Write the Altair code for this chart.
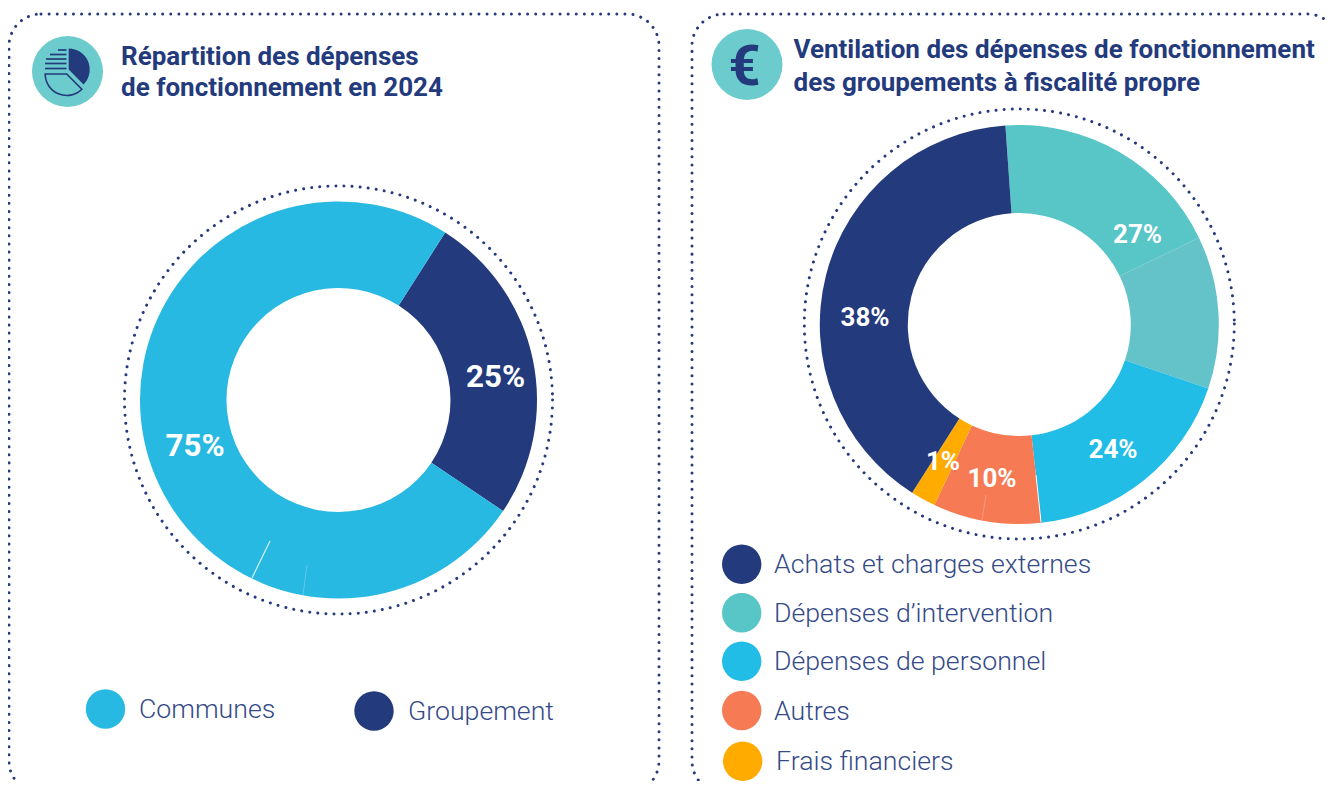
import altair as alt
import pandas as pd

# ---- data ----
left_names = ["Groupement", "Communes"]
left_angles = [91.5, 268.5]          # slice sizes in degrees, as drawn
left_labels = ["25%", "75%"]

right_names = ["Dépenses d’intervention", "Dépenses d’intervention (b)", "Dépenses de personnel",
               "Autres", "Frais financiers", "Achats et charges externes"]
right_angles = [68.2, 44.5, 65.0, 31.5, 7.3, 143.5]
right_labels = ["27%", "", "24%", "10%", "1%", "38%"]

legend_left = ["Communes", "Groupement"]
legend_right = ["Achats et charges externes", "Dépenses d’intervention", "Dépenses de personnel",
                "Autres", "Frais financiers"]
title_left = ["Répartition des dépenses", "de fonctionnement en 2024"]
title_right = ["Ventilation des dépenses de fonctionnement", "des groupements à fiscalité propre"]

# ---- styles and layout (page pixels) ----
NAVY = "#233A7D"
colours = {
    "Groupement": NAVY, "Communes": "#28B9E2",
    "Achats et charges externes": NAVY, "Dépenses d’intervention": "#58C5C7",
    "Dépenses d’intervention (b)": "#64C2C9", "Dépenses de personnel": "#22BDE6",
    "Autres": "#F67B54", "Frais financiers": "#FFAB00",
}
LEFT_C = (338.5, 400); RIGHT_C = (1019.3, 324.5)
px = lambda v: v - 8

color_enc = alt.Color("name:N", legend=None,
                      scale=alt.Scale(domain=list(colours), range=list(colours.values())))
theta_scale = alt.Scale(domain=[0, 360], range=[0, 6.283185307])


def one():
    return alt.Chart(pd.DataFrame({"k": [0]}))


def donut(names, angles, start, centre, outer, inner):
    rows, a = [], start
    for n, v in zip(names, angles):
        rows.append({"name": n, "a0": a, "a1": a + v})
        a += v
    return alt.Chart(pd.DataFrame(rows)).mark_arc(stroke=None).encode(
        theta=alt.Theta("a0:Q", scale=theta_scale),
        theta2="a1:Q",
        radius=alt.value(outer), radius2=alt.value(inner),
        color=color_enc,
        x=alt.value(px(centre[0])), y=alt.value(px(centre[1])),
    )


def text(s, x, y, size, color, weight="normal", font="Roboto", align="left", opacity=1):
    return one().mark_text(text=s, font=font, fontSize=size, fontWeight=weight, color=color,
                           align=align, baseline="middle", opacity=opacity).encode(
        x=alt.value(px(x)), y=alt.value(px(y)))


def circle(x, y, d, color):
    return one().mark_point(shape="circle", filled=True, opacity=1, color=color, size=d * d).encode(
        x=alt.value(px(x)), y=alt.value(px(y)))


def ring(x, y, d):
    return one().mark_point(shape="circle", filled=False, opacity=1, color=NAVY, size=d * d,
                            strokeWidth=3, strokeDash=[0.01, 8.1], strokeCap="round").encode(
        x=alt.value(px(x)), y=alt.value(px(y)))


def panel(x0, y0, x1, y1):
    return one().mark_rect(fillOpacity=0, stroke=NAVY, strokeWidth=3, strokeDash=[0.01, 8.1],
                           strokeCap="round", cornerRadius=32).encode(
        x=alt.value(px(x0)), x2=alt.value(px(x1)), y=alt.value(px(y0)), y2=alt.value(px(y1)))


def seg(x0, y0, x1, y1, color="white", width=1.0, opacity=1):
    return one().mark_rule(color=color, strokeWidth=width, opacity=opacity).encode(
        x=alt.value(px(x0)), x2=alt.value(px(x1)), y=alt.value(px(y0)), y2=alt.value(px(y1)))


layers = [
    panel(9, 14, 659, 793), panel(692, 14, 1339, 793),
    ring(338.5, 400, 428), ring(1019.3, 324, 430),
    donut(left_names, left_angles, 32.5, LEFT_C, 198.5, 112),
    donut(right_names, right_angles, -4, RIGHT_C, 199.5, 111.5),
    # hairline seams of the artwork
    seg(252, 578, 270, 541, width=1.2, opacity=0.8),
    seg(303, 595, 307, 565, width=0.8, opacity=0.3),
    seg(1041, 522, 1036, 475, width=1.0, opacity=0.9),
    seg(982, 520, 986, 495, width=0.8, opacity=0.3),
    # icons
    circle(67.5, 71.5, 71, "#6CCBCC"),
    circle(747, 64.5, 71, "#6CCBCC"),
    text("€", 744.5, 68, 56, NAVY, "bold", align="center"),
]

# pie pictogram
layers.append(one().mark_arc(color=NAVY).encode(
    theta=alt.value(0), theta2=alt.value(2.36), radius=alt.value(21), radius2=alt.value(0),
    x=alt.value(px(68.7)), y=alt.value(px(69.5))))
layers.append(one().mark_arc(fillOpacity=0, stroke=NAVY, strokeWidth=1.6).encode(
    theta=alt.value(2.36), theta2=alt.value(4.71), radius=alt.value(21.5), radius2=alt.value(0),
    x=alt.value(px(66.7)), y=alt.value(px(74))))
for yy, xx in [(50, 58), (54.5, 50), (59, 46), (63.5, 45), (68.5, 45)]:
    layers.append(seg(xx, yy, 66.5, yy, color=NAVY, width=1.7))

# titles
for i, t in enumerate(title_left):
    layers.append(text(t, 121, [57, 88][i], 26, NAVY, "bold"))
for i, t in enumerate(title_right):
    layers.append(text(t, 793.5, [50, 83][i], 26, NAVY, "bold"))

# percentage labels
label_pos = {
    "25%": (495.5, 377.5, 31.3), "75%": (195, 446.5, 31.3),
    "27%": (1137.5, 235, 26), "24%": (1113, 450, 26), "10%": (992, 479, 26),
    "1%": (943, 462, 26), "38%": (865, 317.5, 26),
}
for lab in left_labels + right_labels:
    if lab:
        x, y, s = label_pos[lab]
        layers.append(text(lab, x, y, s, "white", "bold", align="center"))

# legends
for name, cx, cy, tx, ty in zip(legend_left, [105.5, 374], [709, 711], [139, 408], [710, 712]):
    layers.append(circle(cx, cy, 39.4, colours[name]))
    layers.append(text(name, tx, ty, 26.7, "#344A88", 300))
for name, cx, cy, tx in zip(legend_right, [741.7, 741.7, 741.7, 741.7, 742.7],
                            [564.3, 612.7, 661.3, 710.5, 761.3], [774, 774, 774, 774, 776]):
    layers.append(circle(cx, cy, 39.4, colours[name]))
    layers.append(text(name, tx, cy + 1, 26.7, "#344A88", 300))

chart = alt.layer(*layers).properties(
    width=1317, height=773, padding=0, autosize=alt.AutoSizeParams(type="none"),
    background="white"
).configure_view(stroke=None)

chart.save("out.html", embed_options={"renderer": "svg", "actions": False})
